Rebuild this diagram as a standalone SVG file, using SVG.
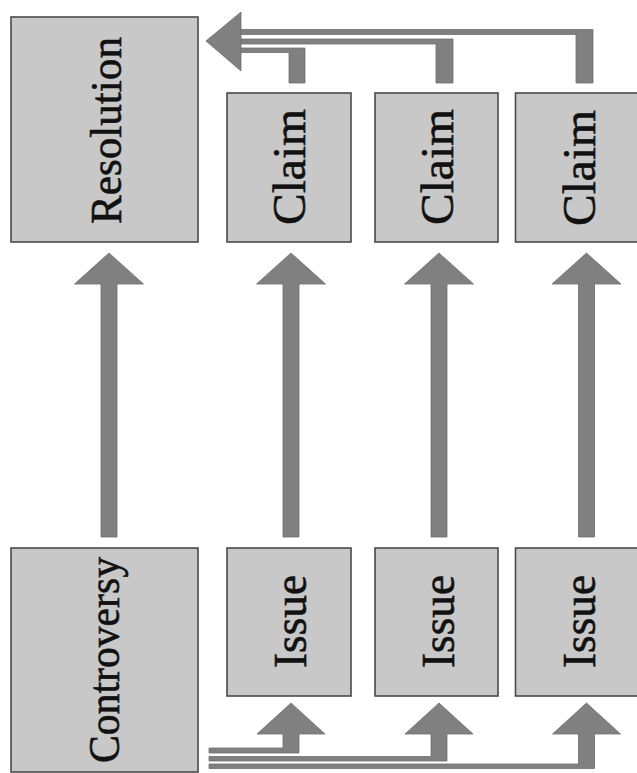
<svg xmlns="http://www.w3.org/2000/svg" width="637" height="773" viewBox="0 0 637 773">
<style>
.box{fill:#c8c8c8;stroke:#4a4a4a;stroke-width:1.6}
.lbl{font-family:"Liberation Serif","Times New Roman",serif;font-size:45px;fill:#111;stroke:#111;stroke-width:0.6;text-anchor:middle}
.sm{font-size:47px}
.conn{fill:#808080;stroke:#6e6e6e;stroke-width:0.8}
</style>
<rect width="637" height="773" fill="#ffffff"/>
<g id="connectors">
  <polygon class="conn" points="206,41 241,12 241,71"/>
  <path class="conn" d="M241,29.5 H593 V83 H576 V34.5 H241 Z"/>
  <path class="conn" d="M241,39 H453 V83 H436 V44 H241 Z"/>
  <path class="conn" d="M241,48 H305 V83 H289 V52.5 H241 Z"/>
  <path class="conn" d="M101,537 V284 H74.5 L109,253 L143.5,284 H117 V537 Z"/>
  <path class="conn" d="M283,537 V284 H256.5 L291,253 L325.5,284 H299 V537 Z"/>
  <path class="conn" d="M431,537 V284 H404.5 L439,253 L473.5,284 H447 V537 Z"/>
  <path class="conn" d="M578.5,537 V284 H552 L586.5,253 L621,284 H594.5 V537 Z"/>
  <path class="conn" d="M209,748 H283 V734 H257 L291,703 L325,734 H299 V753 H209 Z"/>
  <path class="conn" d="M209,756.5 H431 V734 H405 L439,703 L473,734 H447 V761 H209 Z"/>
  <path class="conn" d="M209,764 H578.5 V734 H552.5 L586.5,703 L620.5,734 H594.5 V768.5 H209 Z"/>
</g>
<g id="resolution">
  <rect class="box" x="11" y="17" width="187" height="225"/>
  <text class="lbl" transform="translate(121,130.5) rotate(-90)" textLength="187" lengthAdjust="spacingAndGlyphs">Resolution</text>
</g>
<g id="claim1">
  <rect class="box" x="227" y="93" width="124" height="149"/>
  <text class="lbl sm" transform="translate(305,167) rotate(-90)" textLength="116" lengthAdjust="spacingAndGlyphs">Claim</text>
</g>
<g id="claim2">
  <rect class="box" x="375" y="93" width="123" height="149"/>
  <text class="lbl sm" transform="translate(453,167) rotate(-90)" textLength="116" lengthAdjust="spacingAndGlyphs">Claim</text>
</g>
<g id="claim3">
  <rect class="box" x="515.5" y="93" width="124" height="149"/>
  <text class="lbl sm" transform="translate(595,168) rotate(-90)" textLength="116" lengthAdjust="spacingAndGlyphs">Claim</text>
</g>
<g id="controversy">
  <rect class="box" x="11" y="548" width="187" height="224"/>
  <text class="lbl" transform="translate(119,660) rotate(-90)" textLength="206" lengthAdjust="spacingAndGlyphs">Controversy</text>
</g>
<g id="issue1">
  <rect class="box" x="227" y="548" width="124" height="148"/>
  <text class="lbl sm" transform="translate(306,621.5) rotate(-90)" textLength="93" lengthAdjust="spacingAndGlyphs">Issue</text>
</g>
<g id="issue2">
  <rect class="box" x="375" y="548" width="123" height="148"/>
  <text class="lbl sm" transform="translate(454,621.5) rotate(-90)" textLength="93" lengthAdjust="spacingAndGlyphs">Issue</text>
</g>
<g id="issue3">
  <rect class="box" x="515.5" y="548" width="124" height="148"/>
  <text class="lbl sm" transform="translate(595,621.5) rotate(-90)" textLength="93" lengthAdjust="spacingAndGlyphs">Issue</text>
</g>
</svg>
